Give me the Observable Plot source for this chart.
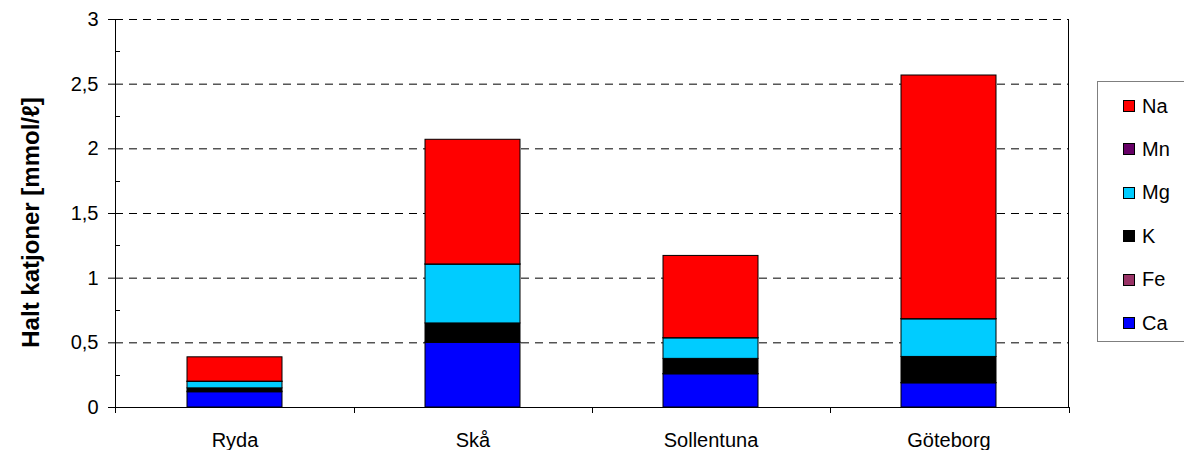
<!DOCTYPE html>
<html>
<head>
<meta charset="utf-8">
<script src="https://cdn.jsdelivr.net/npm/d3@7"></script>
<script src="https://cdn.jsdelivr.net/npm/@observablehq/plot@0.6"></script>
<style>
  body { margin: 0; background: #fff; overflow: hidden; font-family: "Liberation Sans", Arial, sans-serif; }
  #chart { position: relative; width: 1184px; height: 450px; }
  .legend { position: absolute; left: 1097px; top: 81px; width: 110px; height: 261px;
            border: 1px solid #7f7f7f; box-sizing: border-box; background: #fff; }
  .item { position: absolute; left: 25px; height: 22px; display: flex; align-items: center;
          font-size: 20px; color: #000; }
  .sw { width: 12px; height: 12px; border: 1px solid #000; box-sizing: border-box; margin-right: 7px; }
</style>
</head>
<body>
<div id="chart"></div>
<script>
// Sites along the x axis
const sites = ["Ryda", "Skå", "Sollentuna", "Göteborg"];
// Cations, stacked from the bottom up
const ions = ["Ca", "Fe", "K", "Mg", "Mn", "Na"];
const ionColors = ["#0000ff", "#993366", "#000000", "#00ccff", "#660066", "#ff0000"];

// Concentrations per site (mmol/ℓ), same order as sites
const ca = [0.118, 0.500, 0.257, 0.187];
const fe = [0.005, 0.002, 0.001, 0.002];
const k  = [0.025, 0.148, 0.118, 0.202];
const mg = [0.050, 0.455, 0.159, 0.291];
const mn = [0.002, 0.001, 0.001, 0.001];
const na = [0.188, 0.964, 0.636, 1.884];

const yTicks = [0, 0.5, 1, 1.5, 2, 2.5, 3];
const yMinorTicks = [0.25, 0.75, 1.25, 1.75, 2.25, 2.75];
const yLabel = "Halt katjoner [mmol/ℓ]";

const series = {Ca: ca, Fe: fe, K: k, Mg: mg, Mn: mn, Na: na};
const rows = [];
sites.forEach((site, i) => {
  ions.forEach(ion => rows.push({site, ion, value: series[ion][i]}));
});

const font = "'Liberation Sans', Arial, sans-serif";

// Axis lines, minor ticks, category separators and plot-area right edge
function frameDecor(index, scales, values, dims) {
  const {x, y} = scales;
  const g = d3.create("svg:g").attr("stroke", "#000").attr("stroke-width", 1).attr("fill", "none");
  const left = dims.marginLeft, right = dims.width - dims.marginRight;
  const top = dims.marginTop, bottom = dims.height - dims.marginBottom;
  const bw = x.bandwidth ? x.bandwidth() : 0;
  const centers = sites.map(s => x(s) + bw / 2);
  const bounds = [left];
  for (let i = 1; i < centers.length; i++) bounds.push((centers[i - 1] + centers[i]) / 2);
  bounds.push(right);
  // y axis line and right border
  g.append("line").attr("x1", left + 0.5).attr("x2", left + 0.5).attr("y1", top).attr("y2", bottom);
  g.append("line").attr("x1", right - 0.5).attr("x2", right - 0.5).attr("y1", top).attr("y2", bottom);
  // minor ticks pointing inward
  for (const v of yMinorTicks) {
    const yy = Math.round(y(v)) + 0.5;
    g.append("line").attr("x1", left).attr("x2", left + 5).attr("y1", yy).attr("y2", yy);
  }
  // separators between categories, below the x axis
  for (const b of bounds) {
    const xx = Math.round(b) + 0.5;
    g.append("line").attr("x1", xx).attr("x2", xx).attr("y1", bottom).attr("y2", bottom + 6);
  }
  return g.node();
}

const chart = Plot.plot({
  width: 1184,
  height: 450,
  marginTop: 19,
  marginBottom: 43,
  marginLeft: 115,
  marginRight: 115,
  style: {fontFamily: font, fontSize: "20px", color: "#000", background: "#fff", overflow: "visible"},
  x: {domain: sites, paddingInner: 0.6, paddingOuter: 0.3, label: null},
  y: {domain: [0, 3], label: null},
  color: {domain: ions, range: ionColors},
  marks: [
    Plot.ruleY(yTicks.filter(v => v > 0), {stroke: "#000", strokeWidth: 1, strokeDasharray: "8,6"}),
    Plot.barY(rows, Plot.stackY({x: "site", y: "value", fill: "ion", order: ions, stroke: "#000", strokeWidth: 1})),
    Plot.ruleY([0], {stroke: "#000", strokeWidth: 1}),
    frameDecor,
    Plot.axisY({ticks: yTicks, tickSize: 7, tickPadding: 10, fontSize: 20,
                tickFormat: d => String(d).replace(".", ","), label: null}),
    Plot.axisX({tickSize: 0, tickPadding: 25, fontSize: 20, label: null}),
    Plot.text([yLabel], {frameAnchor: "left", text: d => d, rotate: -90, dx: -84, dy: 9,
                         textAnchor: "middle", fontWeight: "bold", fontSize: 24, fill: "#000"})
  ]
});

const host = document.getElementById("chart");
host.appendChild(chart);

// Legend box: top entry is the top of the stack
const legend = document.createElement("div");
legend.className = "legend";
[...ions].reverse().forEach((ion, i) => {
  const item = document.createElement("div");
  item.className = "item";
  item.style.top = (13 + i * 43.4) + "px";
  const sw = document.createElement("span");
  sw.className = "sw";
  sw.style.background = ionColors[ions.indexOf(ion)];
  const label = document.createElement("span");
  label.textContent = ion;
  item.appendChild(sw);
  item.appendChild(label);
  legend.appendChild(item);
});
host.appendChild(legend);
</script>
</body>
</html>
